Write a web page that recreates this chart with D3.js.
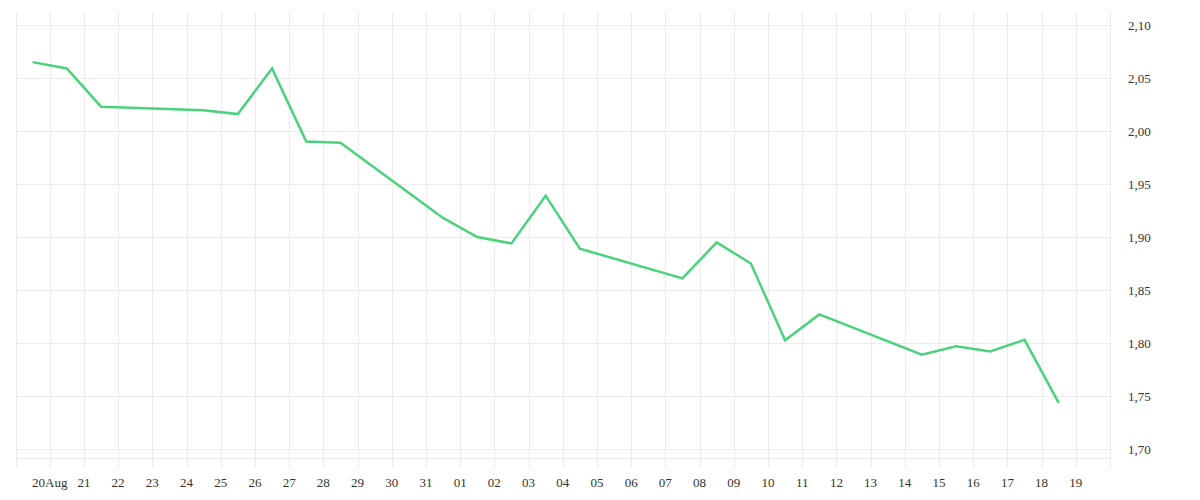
<!DOCTYPE html>
<html>
<head>
<meta charset="utf-8">
<script src="https://cdn.jsdelivr.net/npm/d3@7"></script>
<style>
    body { margin: 0; background: #fff; }
    #chart { width: 1200px; height: 500px; }
</style>
</head>
<body>
<div id="chart"></div>
<script>
'use strict';

// daily closes, trading days only
const dates = [
    "2020-08-19", "2020-08-20", "2020-08-21",
    "2020-08-24", "2020-08-25", "2020-08-26", "2020-08-27", "2020-08-28",
    "2020-08-31", "2020-09-01", "2020-09-02", "2020-09-03", "2020-09-04",
    "2020-09-07", "2020-09-08", "2020-09-09", "2020-09-10", "2020-09-11",
    "2020-09-14", "2020-09-15", "2020-09-16", "2020-09-17", "2020-09-18"
];
const values = [
    2.065, 2.059, 2.023,
    2.0195, 2.016, 2.059, 1.990, 1.989,
    1.918, 1.900, 1.894, 1.939, 1.889,
    1.861, 1.895, 1.875, 1.8025, 1.827,
    1.789, 1.797, 1.792, 1.803, 1.7435
];
const tickDates = [
    "2020-08-20", "2020-08-21", "2020-08-22", "2020-08-23", "2020-08-24",
    "2020-08-25", "2020-08-26", "2020-08-27", "2020-08-28", "2020-08-29",
    "2020-08-30", "2020-08-31", "2020-09-01", "2020-09-02", "2020-09-03",
    "2020-09-04", "2020-09-05", "2020-09-06", "2020-09-07", "2020-09-08",
    "2020-09-09", "2020-09-10", "2020-09-11", "2020-09-12", "2020-09-13",
    "2020-09-14", "2020-09-15", "2020-09-16", "2020-09-17", "2020-09-18",
    "2020-09-19"
];
const tickLabels = [
    "20Aug", "21", "22", "23", "24", "25", "26", "27", "28", "29", "30", "31",
    "01", "02", "03", "04", "05", "06", "07", "08", "09", "10", "11", "12",
    "13", "14", "15", "16", "17", "18", "19"
];
const yTicks = [1.70, 1.75, 1.80, 1.85, 1.90, 1.95, 2.00, 2.05, 2.10];
const xDomain = ["2020-08-19", "2020-09-20"];
const yDomain = [1.6915, 2.1123];

const width = 1200, height = 500;
const margin = {top: 12, right: 90, bottom: 42, left: 15.5};
const parse = d3.utcParse("%Y-%m-%d");
const halfDay = 12 * 3600 * 1000;
const numFmt = d3.formatLocale({decimal: ",", thousands: ".", grouping: [3], currency: ["", ""]}).format(".2f");

const data = dates.map((d, i) => ({date: parse(d), value: values[i]}));

const svg = d3.select("#chart").append("svg")
    .attr("width", width)
    .attr("height", height)
    .attr("font-family", "'Liberation Serif', 'DejaVu Serif', serif")
    .attr("font-size", 13);

const x = d3.scaleUtc()
    .domain(xDomain.map(parse))
    .range([margin.left, width - margin.right]);
const y = d3.scaleLinear()
    .domain(yDomain)
    .range([height - margin.bottom, margin.top]);

const grid = svg.append("g")
    .attr("stroke", "#ececec")
    .attr("stroke-width", 1)
    .attr("shape-rendering", "crispEdges");

// horizontal lines at each value tick, plus the base line
grid.selectAll("line.h")
    .data(yTicks.concat([yDomain[0]]))
    .join("line")
    .attr("class", "h")
    .attr("x1", x.range()[0])
    .attr("x2", x.range()[1])
    .attr("y1", d => Math.round(y(d)) + 0.5)
    .attr("y2", d => Math.round(y(d)) + 0.5);

// vertical day lines, reaching a little under the plot as ticks
const dayLines = [parse(xDomain[0])].concat(tickDates.map(parse), [parse(xDomain[1])]);
grid.selectAll("line.v")
    .data(dayLines)
    .join("line")
    .attr("class", "v")
    .attr("x1", d => Math.round(x(d)) + 0.5)
    .attr("x2", d => Math.round(x(d)) + 0.5)
    .attr("y1", y.range()[1])
    .attr("y2", y.range()[0] + 10);

// x labels
svg.append("g")
    .attr("fill", "#333")
    .attr("text-anchor", "middle")
    .selectAll("text")
    .data(tickDates)
    .join("text")
    .attr("x", d => x(parse(d)))
    .attr("y", 487)
    .text((d, i) => tickLabels[i]);

// y labels on the right
svg.append("g")
    .attr("fill", "#333")
    .selectAll("text")
    .data(yTicks)
    .join("text")
    .attr("x", x.range()[1] + 18)
    .attr("y", d => y(d))
    .attr("dy", "0.35em")
    .text(d => numFmt(d));

const line = d3.line()
    .x(d => x(new Date(d.date.getTime() + halfDay)))
    .y(d => y(d.value));

svg.append("path")
    .datum(data)
    .attr("fill", "none")
    .attr("stroke", "#4ad27c")
    .attr("stroke-width", 2.5)
    .attr("stroke-linejoin", "miter")
    .attr("d", line);
</script>
</body>
</html>
